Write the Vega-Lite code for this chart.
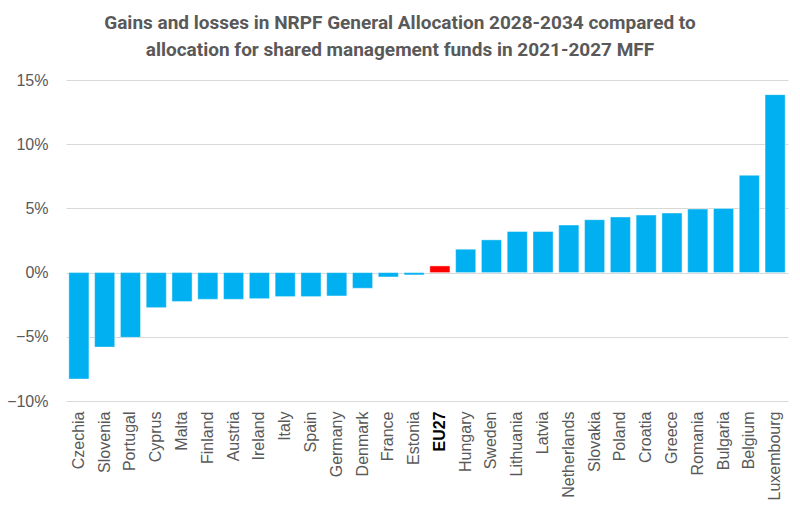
{
  "$schema": "https://vega.github.io/schema/vega-lite/v6.json",
  "autosize": {"type": "none"},
  "width": 722,
  "height": 321,
  "padding": {"left": 66, "top": 80, "right": 12, "bottom": 117},
  "background": "white",
  "title": {
    "text": ["Gains and losses in NRPF General Allocation 2028-2034 compared to", "allocation for shared management funds in 2021-2027 MFF"],
    "font": "Roboto",
    "fontSize": 19,
    "fontWeight": "bold",
    "color": "#595959",
    "lineHeight": 27,
    "anchor": "middle",
    "dx": -27,
    "offset": 12
  },
  "data": {
    "values": [
      {"country": "Czechia", "value": -0.0829},
      {"country": "Slovenia", "value": -0.058},
      {"country": "Portugal", "value": -0.0504},
      {"country": "Cyprus", "value": -0.0273},
      {"country": "Malta", "value": -0.0226},
      {"country": "Finland", "value": -0.0208},
      {"country": "Austria", "value": -0.0208},
      {"country": "Ireland", "value": -0.0203},
      {"country": "Italy", "value": -0.0187},
      {"country": "Spain", "value": -0.0187},
      {"country": "Germany", "value": -0.0182},
      {"country": "Denmark", "value": -0.0122},
      {"country": "France", "value": -0.0034},
      {"country": "Estonia", "value": -0.0018},
      {"country": "EU27", "value": 0.0052},
      {"country": "Hungary", "value": 0.0182},
      {"country": "Sweden", "value": 0.0255},
      {"country": "Lithuania", "value": 0.032},
      {"country": "Latvia", "value": 0.032},
      {"country": "Netherlands", "value": 0.037},
      {"country": "Slovakia", "value": 0.0412},
      {"country": "Poland", "value": 0.0433},
      {"country": "Croatia", "value": 0.0448},
      {"country": "Greece", "value": 0.0464},
      {"country": "Romania", "value": 0.0495},
      {"country": "Bulgaria", "value": 0.05},
      {"country": "Belgium", "value": 0.0758},
      {"country": "Luxembourg", "value": 0.1386}
    ]
  },
  "mark": {"type": "bar", "stroke": "#ffffff", "strokeWidth": 0.6, "strokeOpacity": 0.7},
  "encoding": {
    "x": {
      "field": "country",
      "type": "nominal",
      "sort": null,
      "scale": {"paddingInner": 0.22, "paddingOuter": 0.11},
      "axis": {
        "title": null,
        "labelAngle": -90,
        "labelAlign": "right",
        "labelBaseline": "middle",
        "labelFont": "Liberation Sans",
        "labelFontSize": 16,
        "labelColor": {"condition": {"test": "datum.value === 'EU27'", "value": "#000000"}, "value": "#595959"},
        "labelFontWeight": {"condition": {"test": "datum.value === 'EU27'", "value": "bold"}, "value": "normal"},
        "labelPadding": 10,
        "ticks": false,
        "domain": false,
        "grid": false
      }
    },
    "y": {
      "field": "value",
      "type": "quantitative",
      "scale": {"domain": [-0.1, 0.15], "nice": false},
      "axis": {
        "title": null,
        "format": ".0%",
        "values": [-0.1, -0.05, 0, 0.05, 0.1, 0.15],
        "labelFont": "Liberation Sans",
        "labelFontSize": 16,
        "labelColor": "#595959",
        "labelPadding": 18,
        "ticks": false,
        "domain": false,
        "grid": true,
        "gridColor": "#d9d9d9",
        "gridWidth": 1
      }
    },
    "color": {
      "condition": {"test": "datum.country === 'EU27'", "value": "#FF0000"},
      "value": "#00B0F0"
    }
  },
  "config": {"view": {"stroke": null}}
}
